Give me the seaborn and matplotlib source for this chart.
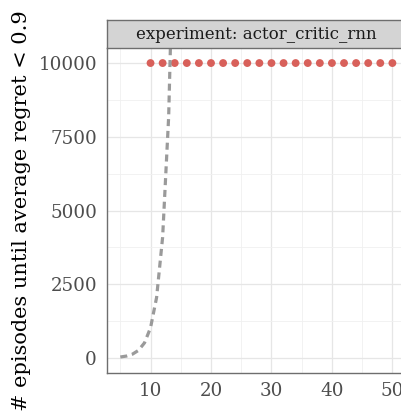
import matplotlib
matplotlib.use("Agg")
import matplotlib.pyplot as plt
import seaborn as sns
import pandas as pd
from matplotlib.ticker import MultipleLocator

# data
point_x = [10, 12, 14, 16, 18, 20, 22, 24, 26, 28, 30, 32, 34, 36, 38, 40, 42, 44, 46, 48, 50]
point_y = [10000] * len(point_x)
curve_x = [5, 6, 7, 8, 9, 10, 11, 12, 13, 14]
curve_y = [32, 64, 128, 256, 512, 1024, 2048, 4096, 8192, 16384]
y_ticks = [0, 2500, 5000, 7500, 10000]
x_ticks = [10, 20, 30, 40, 50]
strip_label = "experiment: actor_critic_rnn"
y_label = "# episodes until average regret < 0.9"

sns.set_style("white")
plt.rcParams['font.family'] = ['DejaVu Serif']

fig = plt.figure(figsize=(4.01, 4.12), dpi=100)
W, H = 401, 412
left, right, top, bottom = 106.7, 406.0, 48.3, 372.7
ax = fig.add_axes([left / W, (H - bottom) / H, (right - left) / W, (bottom - top) / H])

df_pts = pd.DataFrame({"x": point_x, "y": point_y})
df_cur = pd.DataFrame({"x": curve_x, "y": curve_y})

sns.scatterplot(data=df_pts, x="x", y="y", ax=ax, color="#d8605a", s=32,
                edgecolor="none", zorder=3)
sns.lineplot(data=df_cur, x="x", y="y", ax=ax, color="#9a9a9a", linewidth=2.3,
             linestyle=(0, (2.2, 1.5)), zorder=4)

ax.set_xlim(2.75, 52.25)
ax.set_ylim(-500, 10500)
ax.set_xticks(x_ticks)
ax.set_yticks(y_ticks)
ax.xaxis.set_minor_locator(MultipleLocator(5))
ax.yaxis.set_minor_locator(MultipleLocator(1250))
ax.grid(True, which="major", color="#e6e6e6", linewidth=0.9)
ax.grid(True, which="minor", color="#f0f0f0", linewidth=0.6)
ax.set_axisbelow(True)

for s in ["top", "right"]:
    ax.spines[s].set_visible(False)
for s in ["left", "bottom"]:
    ax.spines[s].set_color("#6e6e6e")
    ax.spines[s].set_linewidth(1.0)

ax.tick_params(axis="both", which="major", length=4, width=0.9, color="#6e6e6e",
               labelcolor="#4d4d4d", labelsize=13.2, pad=3)
ax.tick_params(axis="both", which="minor", length=0)
ax.set_xlabel("")
ax.set_ylabel(y_label, fontsize=15, color="black")
ax.yaxis.set_label_coords(-(left - 31) / (right - left), 0.5)

# facet strip
sax = fig.add_axes([left / W, (H - top) / H, (right - left) / W, (top - 20) / H])
sax.set_facecolor("#d4d4d4")
sax.set_xticks([]); sax.set_yticks([])
for s in sax.spines.values():
    s.set_color("#6e6e6e"); s.set_linewidth(1.0)
sax.text(0.5, 0.5, strip_label, ha="center", va="center", fontsize=12,
         color="#1a1a1a", transform=sax.transAxes)

fig.savefig("out.png", dpi=100)
